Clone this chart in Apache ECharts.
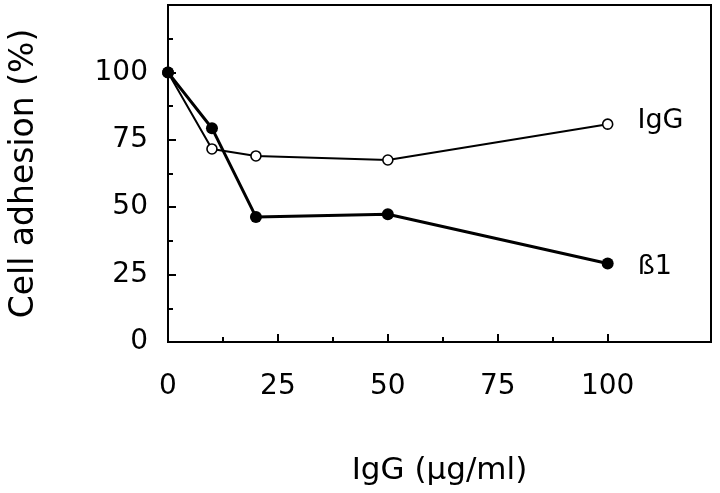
<!DOCTYPE html>
<html>
<head>
<meta charset="utf-8">
<script src="https://cdn.jsdelivr.net/npm/echarts@6/dist/echarts.min.js"></script>
<style>
html,body{margin:0;padding:0;background:#fff;}
#chart{width:720px;height:493px;}
</style>
</head>
<body>
<div id="chart"></div>
<script>
var doses = [0, 10, 20, 50, 100];
var iggValues = [100, 71.6, 69.0, 67.5, 80.8];
var beta1Values = [100, 79.3, 46.4, 47.4, 29.1];
var seriesNames = ['IgG', 'ß1'];
var xTicks = [0, 25, 50, 75, 100];
var xMinorTicks = [12.5, 37.5, 62.5, 87.5];
var yTicks = [0, 25, 50, 75, 100];
var yMinorTicks = [12.5, 37.5, 62.5, 87.5, 112.5];
var xTitle = 'IgG (µg/ml)';
var yTitle = 'Cell adhesion (%)';

var FONT = '"DejaVu Sans", sans-serif';

function pairs(xs, ys) { return xs.map(function (x, i) { return [x, ys[i]]; }); }

function withEndLabel(data, name, offset) {
  return data.map(function (d, i) {
    if (i === data.length - 1) {
      return { value: d, label: { show: true, position: 'right', distance: 24, offset: offset,
        formatter: name, color: '#000', fontSize: 27, fontFamily: FONT } };
    }
    return d;
  });
}

var tickStyle = { color: '#000', width: 2 };

var chart = echarts.init(document.getElementById('chart'), null, { renderer: 'canvas' });
chart.setOption({
  animation: false,
  backgroundColor: '#fff',
  grid: { left: 164, right: 9, top: 5, bottom: 151, show: true, borderColor: '#000', borderWidth: 2, backgroundColor: 'transparent' },
  xAxis: [{
    type: 'value', min: 0, max: 123.5,
    name: xTitle, nameLocation: 'middle', nameGap: 113,
    nameTextStyle: { color: '#000', fontSize: 31, fontFamily: FONT },
    axisLine: { show: true, lineStyle: { color: '#000', width: 2 } },
    axisTick: { show: true, inside: true, length: 8, customValues: xTicks, lineStyle: tickStyle },
    axisLabel: { color: '#000', fontSize: 28, fontFamily: FONT, margin: 31, customValues: xTicks },
    splitLine: { show: false }
  }, {
    type: 'value', min: 0, max: 123.5, position: 'bottom',
    axisLine: { show: false },
    axisTick: { show: true, inside: true, length: 5, customValues: xMinorTicks, lineStyle: tickStyle },
    axisLabel: { show: false },
    splitLine: { show: false }
  }],
  yAxis: [{
    type: 'value', min: 0, max: 125,
    name: yTitle, nameLocation: 'middle', nameGap: 127,
    nameTextStyle: { color: '#000', fontSize: 33, fontFamily: FONT },
    axisLine: { show: true, lineStyle: { color: '#000', width: 2 } },
    axisTick: { show: true, inside: true, length: 8, customValues: yTicks, lineStyle: tickStyle },
    axisLabel: { color: '#000', fontSize: 28, fontFamily: FONT, margin: 20, customValues: yTicks },
    splitLine: { show: false }
  }, {
    type: 'value', min: 0, max: 125, position: 'left',
    axisLine: { show: false },
    axisTick: { show: true, inside: true, length: 5, customValues: yMinorTicks, lineStyle: tickStyle },
    axisLabel: { show: false },
    splitLine: { show: false }
  }],
  series: [{
    name: seriesNames[0], type: 'line', xAxisIndex: 0, yAxisIndex: 0, z: 2,
    data: withEndLabel(pairs(doses, iggValues), seriesNames[0], [0, -3]),
    symbol: 'circle', symbolSize: 10,
    lineStyle: { color: '#000', width: 2 },
    itemStyle: { color: '#fff', borderColor: '#000', borderWidth: 1.6 }
  }, {
    name: seriesNames[1], type: 'line', xAxisIndex: 0, yAxisIndex: 0, z: 3,
    data: withEndLabel(pairs(doses, beta1Values), seriesNames[1], [0, 3]),
    symbol: 'circle', symbolSize: 12,
    lineStyle: { color: '#000', width: 3 },
    itemStyle: { color: '#000', borderColor: '#000', borderWidth: 0 }
  }]
});
</script>
</body>
</html>
